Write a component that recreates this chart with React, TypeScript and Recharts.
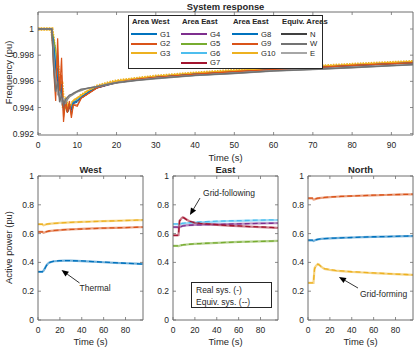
import React from "react";
import { LineChart, Line, XAxis, YAxis, ReferenceLine } from "recharts";

const FONT = '"Liberation Sans", Arial, Helvetica, sans-serif';
const INK = "#262626";
const AXIS = "#6e6e6e";

const BLUE = "#0072BD";
const ORANGE = "#D95319";
const YELLOW = "#EDB120";
const PURPLE = "#7E2F8E";
const GREEN = "#77AC30";
const CYAN = "#4DBEEE";
const RED = "#A2142F";
const GRAY_N = "#404040";
const GRAY_W = "#737373";
const GRAY_E = "#a6a6a6";

// ---- system frequency (top panel) ----
const freqTime = [0, 3.5, 4, 4.5, 5, 5.5, 6, 6.5, 7, 7.5, 8, 8.5, 9, 10, 11, 12, 13, 15, 18, 20, 25, 30, 40, 50, 60, 70, 80, 90, 95.5];
const freqG1 = [1, 1, 0.9988, 0.9972, 0.9962, 0.995, 0.9955, 0.9941, 0.9945, 0.9937, 0.9941, 0.9939, 0.9944, 0.9945, 0.9948, 0.995, 0.9952, 0.9955, 0.99575, 0.9959, 0.9961, 0.9963, 0.99655, 0.9967, 0.9969, 0.99705, 0.9972, 0.99735, 0.9974];
const freqG2 = [1, 1, 0.9968, 0.9945, 0.9993, 0.9952, 0.9978, 0.9929, 0.9946, 0.9937, 0.9945, 0.9932, 0.9942, 0.9941, 0.9947, 0.9949, 0.9951, 0.9955, 0.9958, 0.9959, 0.99615, 0.9963, 0.99655, 0.99675, 0.9969, 0.99705, 0.99722, 0.99735, 0.99742];
const freqG3 = [1, 1, 0.999, 0.9975, 0.9966, 0.9952, 0.9957, 0.9943, 0.9946, 0.9939, 0.9942, 0.9941, 0.9945, 0.9947, 0.9949, 0.9951, 0.9953, 0.9956, 0.99585, 0.996, 0.99618, 0.99636, 0.9966, 0.9968, 0.99695, 0.9971, 0.99725, 0.9974, 0.99748];
const freqG4 = [1, 1, 0.9986, 0.997, 0.996, 0.9948, 0.9953, 0.994, 0.9944, 0.9938, 0.9941, 0.994, 0.9944, 0.9946, 0.9948, 0.995, 0.9952, 0.9955, 0.99575, 0.9959, 0.9961, 0.9963, 0.99652, 0.9967, 0.99688, 0.99703, 0.99718, 0.99733, 0.9974];
const freqG5 = [1, 1, 0.9992, 0.9985, 0.9968, 0.9955, 0.995, 0.9942, 0.994, 0.9936, 0.994, 0.9941, 0.9944, 0.9946, 0.9948, 0.995, 0.9952, 0.99555, 0.99578, 0.9959, 0.99612, 0.9963, 0.99655, 0.99672, 0.9969, 0.99705, 0.9972, 0.99735, 0.99742];
const freqG6 = [1, 1, 0.9987, 0.9978, 0.9965, 0.9951, 0.9948, 0.9942, 0.9943, 0.9938, 0.9941, 0.994, 0.9944, 0.9946, 0.9948, 0.995, 0.9952, 0.9955, 0.99578, 0.9959, 0.9961, 0.9963, 0.99655, 0.9967, 0.9969, 0.99705, 0.9972, 0.99735, 0.9974];
const freqG7 = [1, 1, 0.9985, 0.9968, 0.9958, 0.9947, 0.995, 0.9939, 0.9943, 0.9936, 0.994, 0.9938, 0.9943, 0.9945, 0.9947, 0.9949, 0.9951, 0.99548, 0.99572, 0.99588, 0.9961, 0.9963, 0.99652, 0.9967, 0.99688, 0.99703, 0.99718, 0.99733, 0.9974];
const freqG8 = [1, 1, 0.9984, 0.9966, 0.997, 0.9949, 0.9958, 0.9937, 0.9945, 0.9936, 0.9942, 0.9936, 0.9943, 0.9944, 0.9947, 0.995, 0.9952, 0.9955, 0.99575, 0.9959, 0.9961, 0.9963, 0.99655, 0.9967, 0.9969, 0.99705, 0.9972, 0.99735, 0.9974];
const freqG9 = [1, 1, 0.9975, 0.9955, 0.998, 0.995, 0.9965, 0.9932, 0.9944, 0.9936, 0.9943, 0.9934, 0.9942, 0.9942, 0.9947, 0.9949, 0.9951, 0.9955, 0.9958, 0.9959, 0.99615, 0.9963, 0.99655, 0.99675, 0.9969, 0.99705, 0.99722, 0.99735, 0.99742];
const freqG10 = [1, 1, 0.9989, 0.997, 0.9972, 0.995, 0.996, 0.994, 0.9947, 0.9938, 0.9943, 0.9939, 0.9945, 0.9946, 0.9949, 0.9951, 0.9953, 0.99562, 0.99588, 0.99602, 0.9962, 0.99638, 0.99662, 0.99682, 0.99698, 0.99712, 0.99728, 0.99742, 0.9975];
const freqN = [1, 1, 0.997, 0.9952, 0.996, 0.9944, 0.995, 0.9942, 0.9946, 0.9948, 0.99495, 0.995, 0.9951, 0.99525, 0.9954, 0.99545, 0.9955, 0.9956, 0.99578, 0.9959, 0.99608, 0.99622, 0.99645, 0.99662, 0.9968, 0.99692, 0.99706, 0.9972, 0.99728];
const freqW = [1, 1, 0.998, 0.9958, 0.9955, 0.9948, 0.9945, 0.9944, 0.9943, 0.9946, 0.9948, 0.9949, 0.995, 0.9952, 0.9953, 0.9954, 0.99548, 0.99558, 0.99575, 0.99587, 0.99605, 0.9962, 0.99643, 0.9966, 0.99678, 0.9969, 0.99704, 0.99718, 0.99726];
const freqE = [1, 1, 0.9975, 0.9962, 0.995, 0.9952, 0.9943, 0.9947, 0.9945, 0.9947, 0.9949, 0.99495, 0.99505, 0.9952, 0.99535, 0.99543, 0.9955, 0.99562, 0.9958, 0.99592, 0.9961, 0.99624, 0.99646, 0.99664, 0.99682, 0.99694, 0.99708, 0.99722, 0.9973];

const freqTicksX = [0, 10, 20, 30, 40, 50, 60, 70, 80, 90];
const freqTicksY = [0.992, 0.994, 0.996, 0.998, 1];

// ---- active power (bottom panels), real system and equivalent system ----
const powerTime = [0, 4, 5, 6, 7, 8, 9, 10, 12, 15, 20, 25, 30, 40, 50, 60, 70, 80, 90, 96];

const westG1Real = [0.335, 0.335, 0.342, 0.355, 0.37, 0.382, 0.391, 0.397, 0.403, 0.408, 0.411, 0.412, 0.412, 0.409, 0.405, 0.401, 0.397, 0.394, 0.391, 0.389];
const westG1Eq = [0.335, 0.335, 0.34, 0.353, 0.368, 0.381, 0.39, 0.397, 0.404, 0.409, 0.412, 0.413, 0.412, 0.41, 0.406, 0.402, 0.398, 0.394, 0.391, 0.388];
const westG2Real = [0.612, 0.612, 0.606, 0.608, 0.611, 0.614, 0.616, 0.617, 0.619, 0.621, 0.624, 0.627, 0.629, 0.633, 0.636, 0.638, 0.64, 0.642, 0.644, 0.645];
const westG2Eq = [0.612, 0.612, 0.607, 0.609, 0.612, 0.614, 0.616, 0.618, 0.62, 0.622, 0.625, 0.627, 0.629, 0.632, 0.635, 0.638, 0.64, 0.642, 0.644, 0.645];
const westG3Real = [0.665, 0.665, 0.658, 0.66, 0.663, 0.665, 0.666, 0.667, 0.669, 0.671, 0.674, 0.676, 0.678, 0.681, 0.684, 0.687, 0.689, 0.691, 0.693, 0.694];
const westG3Eq = [0.665, 0.665, 0.659, 0.661, 0.663, 0.665, 0.667, 0.668, 0.669, 0.671, 0.673, 0.676, 0.678, 0.681, 0.684, 0.686, 0.689, 0.691, 0.693, 0.695];

const eastG4Real = [0.645, 0.645, 0.642, 0.645, 0.648, 0.651, 0.653, 0.655, 0.657, 0.659, 0.66, 0.661, 0.662, 0.664, 0.666, 0.668, 0.67, 0.671, 0.672, 0.673];
const eastG4Eq = [0.645, 0.645, 0.643, 0.646, 0.649, 0.651, 0.653, 0.654, 0.656, 0.658, 0.66, 0.661, 0.662, 0.664, 0.666, 0.668, 0.669, 0.671, 0.672, 0.673];
const eastG5Real = [0.515, 0.515, 0.513, 0.516, 0.518, 0.52, 0.521, 0.522, 0.524, 0.526, 0.528, 0.53, 0.532, 0.536, 0.539, 0.542, 0.544, 0.546, 0.548, 0.549];
const eastG5Eq = [0.515, 0.515, 0.514, 0.516, 0.518, 0.52, 0.521, 0.523, 0.524, 0.526, 0.529, 0.531, 0.533, 0.536, 0.539, 0.541, 0.544, 0.546, 0.548, 0.55];
const eastG6Real = [0.665, 0.665, 0.662, 0.664, 0.666, 0.668, 0.669, 0.67, 0.672, 0.674, 0.676, 0.678, 0.68, 0.683, 0.686, 0.688, 0.69, 0.692, 0.693, 0.694];
const eastG6Eq = [0.668, 0.668, 0.665, 0.667, 0.669, 0.671, 0.672, 0.673, 0.675, 0.677, 0.679, 0.681, 0.683, 0.686, 0.688, 0.69, 0.692, 0.694, 0.695, 0.696];
const eastG7Real = [0.588, 0.588, 0.59, 0.69, 0.698, 0.708, 0.713, 0.71, 0.7, 0.686, 0.675, 0.67, 0.667, 0.661, 0.656, 0.652, 0.648, 0.645, 0.642, 0.64];
const eastG7Eq = [0.588, 0.588, 0.592, 0.688, 0.697, 0.706, 0.711, 0.709, 0.699, 0.686, 0.676, 0.671, 0.668, 0.662, 0.657, 0.653, 0.649, 0.646, 0.643, 0.641];

const northG8Real = [0.553, 0.553, 0.549, 0.552, 0.555, 0.558, 0.56, 0.561, 0.563, 0.565, 0.567, 0.569, 0.57, 0.573, 0.575, 0.577, 0.579, 0.581, 0.582, 0.583];
const northG8Eq = [0.554, 0.554, 0.55, 0.553, 0.556, 0.558, 0.56, 0.562, 0.563, 0.565, 0.568, 0.569, 0.571, 0.573, 0.576, 0.578, 0.579, 0.581, 0.583, 0.584];
const northG9Real = [0.845, 0.845, 0.836, 0.838, 0.841, 0.843, 0.845, 0.846, 0.848, 0.85, 0.853, 0.856, 0.858, 0.861, 0.864, 0.866, 0.868, 0.87, 0.872, 0.873];
const northG9Eq = [0.846, 0.846, 0.838, 0.839, 0.842, 0.844, 0.846, 0.847, 0.849, 0.851, 0.854, 0.856, 0.858, 0.861, 0.864, 0.867, 0.869, 0.871, 0.872, 0.874];
const northG10Real = [0.258, 0.258, 0.258, 0.36, 0.372, 0.382, 0.388, 0.385, 0.37, 0.355, 0.348, 0.343, 0.34, 0.334, 0.33, 0.326, 0.322, 0.318, 0.315, 0.313];
const northG10Eq = [0.258, 0.258, 0.262, 0.355, 0.37, 0.381, 0.387, 0.384, 0.371, 0.357, 0.349, 0.344, 0.341, 0.335, 0.331, 0.327, 0.323, 0.319, 0.316, 0.313];

const powerTicksX = [0, 20, 40, 60, 80];
const powerTicksY = [0, 0.2, 0.4, 0.6, 0.8, 1];

// legend of the top panel
const legendHeaders = ["Area West", "Area East", "Area East", "Equiv. Areas"];
const legendNames = [["G1", "G2", "G3"], ["G4", "G5", "G6", "G7"], ["G8", "G9", "G10"], ["N", "W", "E"]];
const legendColors = [[BLUE, ORANGE, YELLOW], [PURPLE, GREEN, CYAN, RED], [BLUE, ORANGE, YELLOW], [GRAY_N, GRAY_W, GRAY_E]];

const freqData = freqTime.map((t, i) => ({
  t,
  G1: freqG1[i], G2: freqG2[i], G3: freqG3[i], G4: freqG4[i], G5: freqG5[i],
  G6: freqG6[i], G7: freqG7[i], G8: freqG8[i], G9: freqG9[i], G10: freqG10[i],
  N: freqN[i], W: freqW[i], E: freqE[i],
}));

const topLines = [
  { key: "G3", color: YELLOW, width: 2.4 },
  { key: "G10", color: YELLOW, width: 3.6, dash: "1.5 1.2" },
  { key: "G4", color: PURPLE, width: 1 },
  { key: "G5", color: GREEN, width: 1 },
  { key: "G6", color: CYAN, width: 1 },
  { key: "G7", color: RED, width: 1 },
  { key: "G1", color: BLUE, width: 1 },
  { key: "G8", color: BLUE, width: 1 },
  { key: "G9", color: ORANGE, width: 1 },
  { key: "G2", color: ORANGE, width: 1.2 },
  { key: "E", color: GRAY_E, width: 1.3 },
  { key: "W", color: "#8c8c8c", width: 1.3 },
  { key: "N", color: "#707070", width: 1.3 },
];

function powerRows(series: Record<string, number[]>) {
  return powerTime.map((t, i) => {
    const row: Record<string, number> = { t };
    Object.keys(series).forEach((k) => (row[k] = series[k][i]));
    return row;
  });
}

const westData = powerRows({ g1r: westG1Real, g1e: westG1Eq, g2r: westG2Real, g2e: westG2Eq, g3r: westG3Real, g3e: westG3Eq });
const eastData = powerRows({ g4r: eastG4Real, g4e: eastG4Eq, g5r: eastG5Real, g5e: eastG5Eq, g6r: eastG6Real, g6e: eastG6Eq, g7r: eastG7Real, g7e: eastG7Eq });
const northData = powerRows({ g8r: northG8Real, g8e: northG8Eq, g9r: northG9Real, g9e: northG9Eq, g10r: northG10Real, g10e: northG10Eq });

type Pair = { id: string; color: string };
type Note = { text: string; tail: [number, number]; head: [number, number]; dx: number; dy: number };

const westPairs: Pair[] = [{ id: "g3", color: YELLOW }, { id: "g2", color: ORANGE }, { id: "g1", color: BLUE }];
const eastPairs: Pair[] = [{ id: "g5", color: GREEN }, { id: "g6", color: CYAN }, { id: "g4", color: PURPLE }, { id: "g7", color: RED }];
const northPairs: Pair[] = [{ id: "g9", color: ORANGE }, { id: "g8", color: BLUE }, { id: "g10", color: YELLOW }];

const westNote: Note = { text: "Thermal", tail: [38, 0.257], head: [21.5, 0.347], dx: 0, dy: 8 };
const eastNote: Note = { text: "Grid-following", tail: [24.7, 0.847], head: [15.5, 0.729], dx: 3, dy: -2 };
const northNote: Note = { text: "Grid-forming", tail: [45.7, 0.222], head: [28.3, 0.299], dx: 2, dy: 9 };

const tickFont = { fontSize: 8.5, fill: INK, fontFamily: FONT };

const bottomTick = (fmt: (v: number) => string) => (p: any) => (
  <g>
    <line x1={p.x} y1={p.y} x2={p.x} y2={p.y - 3} stroke={AXIS} strokeWidth={0.8} />
    <text x={p.x} y={p.y + 13} textAnchor="middle" {...tickFont}>{fmt(p.payload.value)}</text>
  </g>
);
const leftTick = (fmt: (v: number) => string) => (p: any) => (
  <g>
    <line x1={p.x} y1={p.y} x2={p.x + 3} y2={p.y} stroke={AXIS} strokeWidth={0.8} />
    <text x={p.x - 4} y={p.y + 3} textAnchor="end" {...tickFont}>{fmt(p.payload.value)}</text>
  </g>
);
const topTick = (p: any) => <line x1={p.x} y1={p.y} x2={p.x} y2={p.y + 3} stroke={AXIS} strokeWidth={0.8} />;
const rightTick = (p: any) => <line x1={p.x} y1={p.y} x2={p.x - 3} y2={p.y} stroke={AXIS} strokeWidth={0.8} />;

const fmt = (v: number) => String(v);

function arrowShape(note: Note) {
  return (p: any) => {
    const { x1, y1, x2, y2 } = p;
    const a = Math.atan2(y2 - y1, x2 - x1);
    const len = 7;
    const half = 3;
    const bx = x2 - len * Math.cos(a);
    const by = y2 - len * Math.sin(a);
    const pts = `${x2},${y2} ${bx + half * Math.sin(a)},${by - half * Math.cos(a)} ${bx - half * Math.sin(a)},${by + half * Math.cos(a)}`;
    return (
      <g>
        <line x1={x1} y1={y1} x2={bx} y2={by} stroke="#000" strokeWidth={0.8} />
        <polygon points={pts} fill="#000" />
        <text x={x1 + note.dx} y={y1 + note.dy} fontSize={8.5} fill={INK} fontFamily={FONT}>{note.text}</text>
      </g>
    );
  };
}

// axes are 1px thick: recharts skips axes with a zero size
function axes(xDomain: number[], xTicks: number[], yDomain: number[], yTicks: number[]) {
  const line = { stroke: AXIS, strokeWidth: 1 };
  return [
    <XAxis key="xb" dataKey="t" type="number" domain={xDomain} ticks={xTicks} interval={0} height={1} tickSize={0} tickMargin={0} tickLine={false} axisLine={line} tick={bottomTick(fmt)} allowDataOverflow />,
    <XAxis key="xt" xAxisId="top" orientation="top" dataKey="t" type="number" domain={xDomain} ticks={xTicks} interval={0} height={1} tickSize={0} tickMargin={0} tickLine={false} axisLine={line} tick={topTick} allowDataOverflow />,
    <YAxis key="yl" type="number" domain={yDomain} ticks={yTicks} interval={0} width={1} tickSize={0} tickMargin={0} tickLine={false} axisLine={line} tick={leftTick(fmt)} allowDataOverflow />,
    <YAxis key="yr" yAxisId="right" orientation="right" type="number" domain={yDomain} ticks={yTicks} interval={0} width={1} tickSize={0} tickMargin={0} tickLine={false} axisLine={line} tick={rightTick} allowDataOverflow />,
  ];
}

const labelStyle: React.CSSProperties = { position: "absolute", fontFamily: FONT, fontSize: 9.4, color: INK, textAlign: "center", whiteSpace: "nowrap" };
const titleStyle: React.CSSProperties = { ...labelStyle, fontSize: 9.4, fontWeight: "bold" };

function TopLegend() {
  const colX = [2, 52, 103, 152];
  return (
    <div style={{ position: "absolute", left: 128, top: 15, width: 195, height: 54, background: "#fff", border: `1px solid ${INK}`, boxSizing: "border-box", fontFamily: FONT, fontSize: 7.7, color: INK }}>
      {legendHeaders.map((h, c) => (
        <React.Fragment key={c}>
          <div style={{ position: "absolute", left: colX[c] + 1, top: 1, fontWeight: "bold", whiteSpace: "nowrap" }}>{h}</div>
          {legendNames[c].map((n, r) => (
            <div key={n} style={{ position: "absolute", left: colX[c], top: 13.5 + r * 9.6, display: "flex", alignItems: "center", height: 9 }}>
              <div style={{ width: 26, height: 2, background: legendColors[c][r], marginRight: 3 }} />
              <span>{n}</span>
            </div>
          ))}
        </React.Fragment>
      ))}
    </div>
  );
}

function PowerPanel({ left, title, data, pairs, note, yLabel, children }: any) {
  return (
    <>
      <div style={{ ...titleStyle, left: left + 38, top: 164, width: 105 }}>{title}</div>
      <div style={{ ...labelStyle, left: left + 38, top: 336, width: 105 }}>Time (s)</div>
      {yLabel && (
        <div style={{ ...labelStyle, left: 8 - 60, top: 248 - 6, width: 120, transform: "rotate(-90deg)" }}>{yLabel}</div>
      )}
      <div style={{ position: "absolute", left, top: 160 }}>
        <LineChart width={147} height={187} data={data} margin={{ top: 15, right: 3, bottom: 26, left: 37 }}>
          {axes([0, 96], powerTicksX, [0, 1], powerTicksY)}
          {pairs.map((p: Pair) => (
            <Line key={p.id + "r"} dataKey={p.id + "r"} type="linear" stroke={p.color} strokeOpacity={0.55} strokeWidth={2.2} dot={false} isAnimationActive={false} />
          ))}
          {pairs.map((p: Pair) => (
            <Line key={p.id + "e"} dataKey={p.id + "e"} type="linear" stroke={p.color} strokeWidth={1.3} strokeDasharray="5 3" dot={false} isAnimationActive={false} />
          ))}
          <ReferenceLine segment={[{ x: note.tail[0], y: note.tail[1] }, { x: note.head[0], y: note.head[1] }]} shape={arrowShape(note)} ifOverflow="visible" />
        </LineChart>
      </div>
      {children}
    </>
  );
}

export default function App() {
  return (
    <div style={{ position: "absolute", left: 0, top: 0, width: 415, height: 347, background: "#fff", overflow: "hidden" }}>
      <div style={{ ...titleStyle, left: 38, top: 1, width: 375 }}>System response</div>
      <div style={{ ...labelStyle, left: 38, top: 152, width: 375 }}>Time (s)</div>
      <div style={{ ...labelStyle, left: 8 - 60, top: 73 - 6, width: 120, transform: "rotate(-90deg)" }}>Frequency (pu)</div>
      <div style={{ position: "absolute", left: 0, top: 0 }}>
        <LineChart width={415} height={165} data={freqData} margin={{ top: 11, right: 1, bottom: 29, left: 37 }}>
          {axes([0, 95.5], freqTicksX, [0.9919, 1.0013], freqTicksY)}
          {topLines.map((s) => (
            <Line key={s.key} dataKey={s.key} type="linear" stroke={s.color} strokeWidth={s.width} strokeDasharray={s.dash} dot={false} isAnimationActive={false} />
          ))}
        </LineChart>
      </div>
      <TopLegend />

      <PowerPanel left={0} title="West" data={westData} pairs={westPairs} note={westNote} yLabel="Active power (pu)" />
      <PowerPanel left={135} title="East" data={eastData} pairs={eastPairs} note={eastNote}>
        <div style={{ position: "absolute", left: 191, top: 282, width: 81, height: 26, border: `1px solid ${INK}`, boxSizing: "border-box", background: "#fff", fontFamily: FONT, fontSize: 8.5, color: INK, padding: "2px 0 0 4px", lineHeight: "11.5px" }}>
          <div>Real sys. (-)</div>
          <div>Equiv. sys. (--)</div>
        </div>
      </PowerPanel>
      <PowerPanel left={270} title="North" data={northData} pairs={northPairs} note={northNote} />
    </div>
  );
}
